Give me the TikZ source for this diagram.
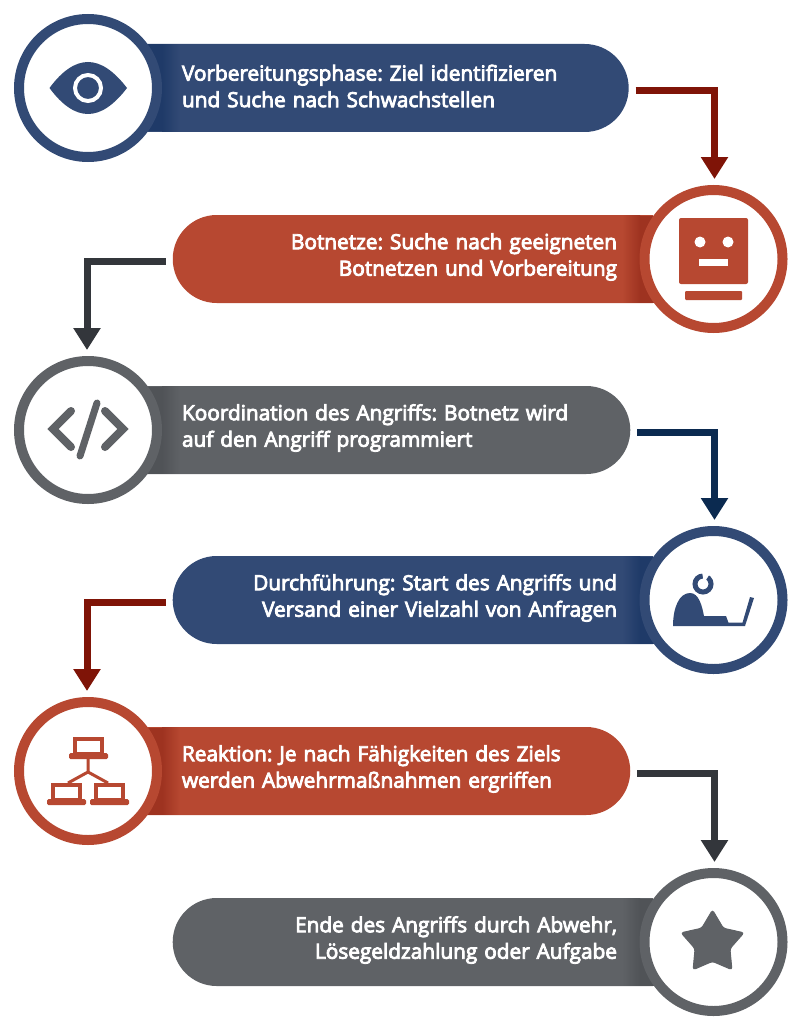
\documentclass[tikz,border=0pt]{standalone}
\usepackage{fontspec}
\setmainfont{Open Sans}
\newfontfamily\barfont{Open Sans}[FakeBold=4]
\usepackage{xcolor}
\usepackage{tikz}
\usetikzlibrary{positioning}
\usetikzlibrary{calc,arrows.meta}
\usetikzlibrary{shapes.misc,shapes.geometric}

\definecolor{navybar}{HTML}{324A75}
\definecolor{navyshade}{HTML}{1F3A68}
\definecolor{navyarrow}{HTML}{0B2A50}
\definecolor{redbar}{HTML}{B74831}
\definecolor{redshade}{HTML}{9E3320}
\definecolor{redarrow}{HTML}{7F1407}
\definecolor{greybar}{HTML}{5F6266}
\definecolor{greyshade}{HTML}{505357}
\definecolor{greyarrow}{HTML}{33363B}

\tikzset{
    phasebar/.style={rounded rectangle, rounded rectangle arc length=180, minimum height=88pt,
        inner ysep=0pt, outer sep=0pt, text width=400pt, text=white,
        font=\frenchspacing\barfont\fontsize{20.8pt}{26.5pt}\selectfont,
        execute at end node={\par\vspace{4pt}}},
    leftbar/.style={phasebar, fill=#1, inner xsep=40pt, rounded rectangle west arc=none, align=left},
    rightbar/.style={phasebar, fill=#1, inner xsep=36pt, rounded rectangle east arc=none, align=right},
    ring/.style={circle, draw=#1, fill=white, line width=10pt, minimum size=138pt, inner sep=0pt},
    flow/.style={draw=#1, line width=7pt, -{Triangle[width=26pt,length=22pt]}},
}

\begin{document}
\begin{tikzpicture}[x=1pt,y=-1pt]
    \useasboundingbox (0,0) rectangle (802,1030);

    % Draw bars
    \node[leftbar=navybar] (prepbar) at (382,88) {Vorbereitungsphase: Ziel identifizieren\\und Suche nach Schwachstellen};
    \node[rightbar=redbar] (botbar) at (417,259) {Botnetze: Suche nach geeigneten\\Botnetzen und Vorbereitung};
    \node[leftbar=greybar] (codebar) at (382,430) {Koordination des Angriffs: Botnetz wird\\auf den Angriff programmiert};
    \node[rightbar=navybar] (runbar) at (417,600) {Durchführung: Start des Angriffs und\\Versand einer Vielzahl von Anfragen};
    \node[leftbar=redbar] (reactbar) at (382,771) {Reaktion: Je nach Fähigkeiten des Ziels\\werden Abwehrmaßnahmen ergriffen};
    \node[rightbar=greybar] (endbar) at (417,942) {Ende des Angriffs durch Abwehr,\\Lösegeldzahlung oder Aufgabe};

    % Draw shadows next to the rings
    \foreach \y/\c in {88/navy,430/grey,771/red} {
        \fill[\c shade] (140,\y-43.5) rectangle (162,\y+43.5);
        \shade[left color=\c shade, right color=\c bar] (162,\y-43.5) rectangle (180,\y+43.5);
    }
    \foreach \y/\c in {259/red,600/navy,942/grey} {
        \fill[\c shade] (655,\y-43.5) rectangle (640,\y+43.5);
        \shade[left color=\c bar, right color=\c shade] (622,\y-43.5) rectangle (640,\y+43.5);
    }

    % Draw rings
    \node[ring=navybar] (prepring) at (88,88) {};
    \node[ring=redbar] (botring) at (713.5,259) {};
    \node[ring=greybar] (codering) at (88,430) {};
    \node[ring=navybar] (runring) at (713.5,600) {};
    \node[ring=redbar] (reactring) at (88,771) {};
    \node[ring=greybar] (endring) at (713.5,942) {};

    % Draw arrows
    \draw[flow=redarrow, shorten <=7pt, shorten >=6pt] ([yshift=-2.5pt]prepbar.east) -| ([xshift=1pt]botring.north);
    \draw[flow=greyarrow, shorten <=7pt, shorten >=6pt] ([yshift=-2pt]botbar.west) -| ([xshift=-1pt]codering.north);
    \draw[flow=navyarrow, shorten <=7pt, shorten >=6pt] ([yshift=-2.5pt]codebar.east) -| ([xshift=1pt]runring.north);
    \draw[flow=redarrow, shorten <=7pt, shorten >=6pt] ([yshift=-2pt]runbar.west) -| ([xshift=-1pt]reactring.north);
    \draw[flow=greyarrow, shorten <=7pt, shorten >=6pt] ([yshift=-2.5pt]reactbar.east) -| ([xshift=1pt]endring.north);

    % Eye
    \fill[navybar] (49.5,88) .. controls (62,71) and (75,62) .. (88,62) .. controls (101,62) and (114,71) .. (127,88)
        .. controls (114,105) and (101,114) .. (88,114) .. controls (75,114) and (62,105) .. (49.5,88) -- cycle;
    \draw[white, line width=4pt] (88,88) circle (13);

    % Robot
    \fill[redbar, rounded corners=2pt] (679,218) rectangle (748,284);
    \fill[white] (700,242) circle (5.5);
    \fill[white] (728,242) circle (5.5);
    \fill[white] (699,259) rectangle (728,266);
    \fill[redbar, rounded corners=1pt] (685,291) rectangle (742,300);

    % Code brackets
    \draw[greybar, line width=8pt, line cap=round] (71,411) -- (53,429) -- (71,447);
    \draw[greybar, line width=8pt, line cap=round] (105,411) -- (123,429) -- (105,447);
    \draw[greybar, line width=7pt, line cap=round] (97,403) -- (80,456);

    % Person at laptop
    \fill[navybar] (673,626) .. controls (673,608) and (679,593) .. (690,593)
        .. controls (699,593) and (702,606) .. (704,616) -- (726,616) -- (728.5,622.7) -- (742.5,622.7)
        -- (750,597) -- (754,598) -- (745,626) -- cycle;
    \draw[navybar, line width=5pt] (703,584) circle (8);
    \fill[white] (702,572) -- (711,572) -- (704,583) -- cycle;

    % Network
    \foreach \xa/\xb/\ya in {73/104/737,51/82/783,94/125/783} {
        \draw[redbar, line width=3.5pt] (\xa+2,\ya+2) rectangle (\xb-2,\ya+17);
        \fill[redbar, rounded corners=1.5pt] (\xa-4,\ya+16) rectangle (\xb+4,\ya+22);
    }
    \draw[redbar, line width=3pt] (88,759) -- (88,772) -- (68,783);
    \draw[redbar, line width=3pt] (88,772) -- (108,783);

    % Star
    \node[star, star points=5, star point ratio=1.8, fill=greybar, draw=greybar, line width=1pt,
        rounded corners=2.5pt, minimum size=66pt, inner sep=0pt] (endstar) at (712.5,943) {};
\end{tikzpicture}
\end{document}
